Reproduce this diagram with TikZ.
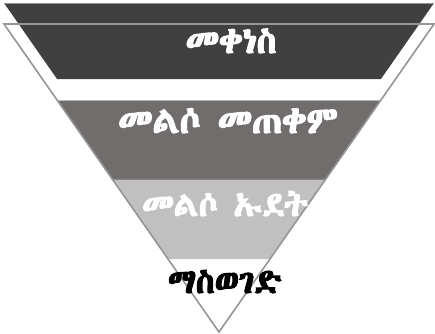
\documentclass[tikz,border=0pt]{standalone}
\usepackage{fontspec}
\newfontfamily\ethfont[AutoFakeBold=3.5]{Abyssinica SIL}
\usetikzlibrary{calc}
\definecolor{bandone}{HTML}{404040}
\definecolor{bandtwo}{HTML}{716D6C}
\definecolor{bandthree}{HTML}{C0C0C0}
\definecolor{rim}{HTML}{959595}
\tikzset{
  rimline/.style={draw=rim, line width=1.6pt},
  steplabel/.style={font=\ethfont\bfseries\fontsize{#1}{#1}\selectfont, anchor=base, inner sep=0pt}
}
\begin{document}
\begin{tikzpicture}[x=1pt,y=-1pt]
        \useasboundingbox (0,0) rectangle (435,333);
        % triangle
            \coordinate (A) at (4,24);
            \coordinate (B) at (434,24);
            \coordinate (C) at (219,332);
        % bands
            \fill[bandone] ($(A)+(0,-21)$) -- ($(B)+(0,-21)$)
                -- ($($(B)!0.2468!(C)$)+(0,-21)$) -- ($($(A)!0.2468!(C)$)+(0,-21)$) -- cycle;
            \foreach \t/\b/\c in {0.2468/0.5032/bandtwo, 0.5032/0.7630/bandthree}{
                \fill[\c] ($(A)!\t!(C)$) -- ($(B)!\t!(C)$) -- ($(B)!\b!(C)$) -- ($(A)!\b!(C)$) -- cycle;
            }
        % band edges
            \draw[rim, line width=1pt] ($(A)+(0,-20.5)$) -- ($(B)+(0,-20.5)$);
            \draw[rim!70!white, line width=1.5pt] ($(A)!0.2490!(C)$) -- ($(B)!0.2490!(C)$);
            \draw[bandtwo!85!white, line width=1.5pt] ($(A)!0.5055!(C)$) -- ($(B)!0.5055!(C)$);
            \draw[rimline] (A) -- (B) -- (C) -- cycle;
        % labels
            \node[steplabel=36, white] (reduce) at (231,53) {መቀነስ};
            \node[steplabel=37, white] (reuse) at (228,133) {መልሶ መጠቀም};
            \node[steplabel=34, white] (recycle) at (225,216) {መልሶ ኡደት};
            \node[steplabel=34, black] (dispose) at (225,293) {ማስወገድ};
\end{tikzpicture}
\end{document}
